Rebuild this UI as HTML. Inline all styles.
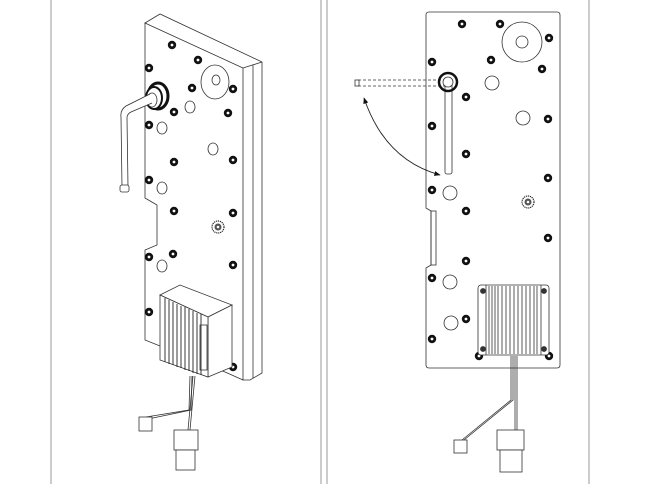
<!DOCTYPE html>
<html><head><style>
html,body{margin:0;padding:0;background:#fff;width:645px;height:484px;overflow:hidden}
svg{display:block}
</style></head><body>
<svg width="645" height="484" viewBox="0 0 645 484" xmlns="http://www.w3.org/2000/svg" fill="none" stroke="#333" stroke-width="0.8">
<defs>
<g id="d"><circle r="4.2" fill="#111" stroke="none"/><circle r="1.4" fill="#fff" stroke="none"/></g>
<g id="gear"><circle r="6" fill="#fff" stroke="#222" stroke-width="1.2" stroke-dasharray="1.2 0.8"/><circle r="3.5" fill="#555" stroke="none"/><circle r="1.3" fill="#fff" stroke="none"/></g>
<marker id="ah" viewBox="0 0 10 10" refX="9" refY="5" markerWidth="7" markerHeight="7" orient="auto-start-reverse"><path d="M0,1 L10,5 L0,9 z" fill="#111" stroke="none"/></marker>
</defs>
<line x1="51" y1="0" x2="51" y2="484" stroke="#aaa" stroke-width="1.2"/>
<line x1="321" y1="0" x2="321" y2="484" stroke="#aaa" stroke-width="1.2"/>
<line x1="327" y1="0" x2="327" y2="484" stroke="#aaa" stroke-width="1.2"/>
<line x1="589" y1="0" x2="589" y2="484" stroke="#aaa" stroke-width="1.2"/>

<!-- LEFT ISO VIEW -->
<polygon points="145,23 160,14 262,62 262,373 250,380 243,380" fill="#fff"/>
<line x1="243" y1="68" x2="262" y2="62"/>
<line x1="253" y1="65" x2="253" y2="378"/>
<polygon points="145,23 243,68 243,380 225,372 145,340 145,250 157,245 157,205 145,198" fill="#fff"/>
<g>
<use href="#d" x="172" y="45"/><use href="#d" x="198" y="60"/><use href="#d" x="149" y="68"/>
<use href="#d" x="192" y="88"/><use href="#d" x="233" y="89"/><use href="#d" x="174" y="112"/>
<use href="#d" x="228" y="113"/><use href="#d" x="149" y="125"/><use href="#d" x="174" y="162"/>
<use href="#d" x="233" y="160"/><use href="#d" x="149" y="180"/><use href="#d" x="174" y="211"/>
<use href="#d" x="233" y="213"/><use href="#d" x="149" y="257"/><use href="#d" x="173" y="254"/>
<use href="#d" x="233" y="265"/><use href="#d" x="149" y="312"/><use href="#d" x="233" y="367"/>
</g>
<ellipse cx="162" cy="128" rx="5" ry="6"/><ellipse cx="190" cy="107" rx="5" ry="6"/>
<ellipse cx="213" cy="149" rx="5" ry="6"/><ellipse cx="162" cy="188" rx="5" ry="6"/>
<ellipse cx="162" cy="266" rx="5" ry="6"/>
<ellipse cx="215" cy="82" rx="14" ry="17"/><ellipse cx="216" cy="80" rx="4" ry="5"/>
<use href="#gear" x="218" y="227"/>
<!-- knob & handle -->
<ellipse cx="158" cy="96" rx="10" ry="13" fill="#fff" stroke="#111" stroke-width="3"/>
<ellipse cx="154" cy="98" rx="8" ry="11" fill="#fff" stroke="#111" stroke-width="2"/>
<ellipse cx="152" cy="100" rx="5" ry="7" fill="#fff"/>
<path d="M150,94 L126,106 Q120,110 121,117 L122,187 L128,187 L127,118 Q127,114 131,112 L152,103" fill="#fff"/>
<rect x="120" y="185" width="9" height="7" rx="2" fill="#fff"/>
<!-- module -->
<polygon points="160,295 180,285 232,305 208,317" fill="#fff"/>
<polygon points="208,317 232,305 232,367 208,377" fill="#fff"/>
<polygon points="160,295 208,317 208,377 160,360" fill="#fff"/>
<g stroke="#222" stroke-width="0.9">
<line x1="165" y1="298" x2="165" y2="362"/><line x1="169" y1="300" x2="169" y2="364"/><line x1="173" y1="302" x2="173" y2="365"/>
<line x1="177" y1="304" x2="177" y2="367"/><line x1="181" y1="306" x2="181" y2="368"/><line x1="185" y1="307" x2="185" y2="370"/>
<line x1="189" y1="309" x2="189" y2="371"/><line x1="193" y1="311" x2="193" y2="373"/><line x1="197" y1="313" x2="197" y2="374"/>
<line x1="201" y1="314" x2="201" y2="375"/>
</g>
<rect x="200" y="325" width="7" height="45"/>
<path d="M190,376 L189,410 L146,417"/><path d="M192,376 L191,410 L148,419"/>
<path d="M193,376 L188,430"/><path d="M195,376 L190,430"/>
<rect x="139" y="417" width="13" height="14" fill="#fff"/>
<rect x="174" y="430" width="24" height="20" fill="#fff"/>
<rect x="176" y="450" width="19" height="20" fill="#fff"/>

<!-- RIGHT FRONT VIEW -->
<path d="M429,12 H557 Q560,12 560,15 V365 Q560,368 557,368 H429 Q426,368 426,365 V268 L431,265 V211 L426,208 V15 Q426,12 429,12 Z" fill="#fff"/>
<rect x="431" y="211" width="5" height="54"/>
<g>
<use href="#d" x="462" y="24"/><use href="#d" x="500" y="24"/><use href="#d" x="549" y="38"/>
<use href="#d" x="432" y="62"/><use href="#d" x="491" y="60"/><use href="#d" x="542" y="69"/>
<use href="#d" x="466" y="97"/><use href="#d" x="548" y="119"/><use href="#d" x="432" y="126"/>
<use href="#d" x="466" y="154"/><use href="#d" x="548" y="178"/><use href="#d" x="432" y="190"/>
<use href="#d" x="466" y="211"/><use href="#d" x="548" y="238"/><use href="#d" x="466" y="261"/>
<use href="#d" x="432" y="278"/><use href="#d" x="466" y="319"/><use href="#d" x="432" y="339"/>
<use href="#d" x="479" y="356"/><use href="#d" x="549" y="356"/>
</g>
<circle cx="522" cy="42" r="20"/><circle cx="522" cy="42" r="6"/>
<circle cx="492" cy="83" r="7"/><circle cx="523" cy="118" r="7"/>
<circle cx="450" cy="193" r="7"/><circle cx="450" cy="282" r="7"/><circle cx="451" cy="323" r="7"/>
<use href="#gear" x="528" y="202"/>
<path d="M358,80 H446 M358,86 H446" stroke-dasharray="3 2"/>
<rect x="355" y="80" width="4" height="6"/>
<rect x="445" y="82" width="7" height="92" rx="2" fill="#fff"/>
<circle cx="448" cy="82" r="9" fill="none" stroke="#111" stroke-width="2.5"/>
<circle cx="448" cy="82" r="5" fill="#fff"/>
<path d="M364,98 Q385,160 440,175" stroke="#222" stroke-width="0.9" marker-start="url(#ah)" marker-end="url(#ah)"/>
<rect x="478" y="285" width="71" height="70" rx="3" fill="#fff"/>
<line x1="486" y1="285" x2="486" y2="355"/><line x1="541" y1="285" x2="541" y2="355"/>
<g stroke="#333" stroke-width="0.8">
<line x1="489" y1="286" x2="489" y2="354"/><line x1="492" y1="286" x2="492" y2="354"/><line x1="495" y1="286" x2="495" y2="354"/>
<line x1="498" y1="286" x2="498" y2="354"/><line x1="502" y1="286" x2="502" y2="354"/><line x1="506" y1="286" x2="506" y2="354"/>
<line x1="510" y1="286" x2="510" y2="354"/><line x1="514" y1="286" x2="514" y2="354"/><line x1="518" y1="286" x2="518" y2="354"/>
<line x1="522" y1="286" x2="522" y2="354"/><line x1="526" y1="286" x2="526" y2="354"/><line x1="530" y1="286" x2="530" y2="354"/>
<line x1="534" y1="286" x2="534" y2="354"/><line x1="537" y1="286" x2="537" y2="354"/>
</g>
<circle cx="483" cy="291" r="2.5" fill="#333"/><circle cx="544" cy="291" r="2.5" fill="#333"/>
<circle cx="483" cy="349" r="2.5" fill="#333"/><circle cx="544" cy="349" r="2.5" fill="#333"/>
<path d="M511,356 V400 L462,440 M513,356 V400 L464,440"/>
<path d="M515,356 V430 M517,356 V430"/>
<rect x="454" y="440" width="13" height="13" fill="#fff"/>
<rect x="497" y="430" width="27" height="20" fill="#fff"/>
<rect x="500" y="450" width="22" height="22" fill="#fff"/>
</svg>
</body></html>
